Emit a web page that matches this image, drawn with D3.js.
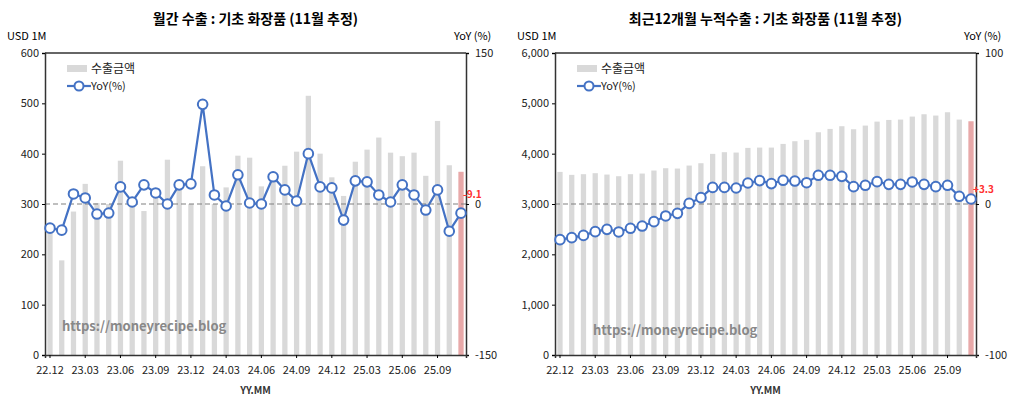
<!DOCTYPE html><html><head><meta charset="utf-8"><script src="https://cdn.jsdelivr.net/npm/d3@7"></script>
<style>body{margin:0;background:#fff}text{font-family:"Noto Sans CJK KR","Noto Sans",sans-serif}</style></head><body><svg id="c" width="1024" height="411"></svg><script>
const months=["22.12","23.01","23.02","23.03","23.04","23.05","23.06","23.07","23.08","23.09","23.10","23.11","23.12","24.01","24.02","24.03","24.04","24.05","24.06","24.07","24.08","24.09","24.10","24.11","24.12","25.01","25.02","25.03","25.04","25.05","25.06","25.07","25.08","25.09","25.10","25.11"];
const tickLabels=["22.12","23.03","23.06","23.09","23.12","24.03","24.06","24.09","24.12","25.03","25.06","25.09"];
const monthlyExport=[250,188,285,340,302,300,386,300,286,330,388,341,300,375,300,333,396,392,335,350,376,404,515,400,353,316,384,408,432,402,395,402,356,465,377,364];
const monthlyYoY=[-24,-26,10,6,-10,-9,17,2,19,11,0,19,20,99,9,-2,29,1,0,27,14,3,50,17,16,-16,23,22,9,2,19,9,-6,14,-27,-9.1];
const rollingExport=[3638,3579,3592,3612,3585,3552,3592,3605,3665,3711,3704,3764,3810,3996,4029,4022,4115,4121,4121,4194,4247,4274,4425,4492,4545,4485,4558,4637,4670,4677,4737,4783,4757,4823,4677,4644];
const rollingYoY=[-23.6,-22.3,-20.8,-18.3,-16.8,-18.5,-16.1,-14.6,-11.7,-7.9,-6.2,0.4,4.2,11,11,10.6,13.9,15.5,13.5,15.7,15.2,14.1,19,19,18.3,11.5,12.4,14.8,13,13,14.6,13,11.5,12.4,5.1,3.3];
const svg=d3.select("#c");
const fmtY2=d=>String(d);
function chart(o){
 const g=svg.append("g");
 const x=d3.scaleBand().domain(months).range([o.x0,o.x1]).paddingInner(0.55).paddingOuter(0.2);
 const y=d3.scaleLinear().domain(o.yd).range([355,53]);
 const y2=d3.scaleLinear().domain(o.y2d).range([355,53]);
 g.append("text").attr("x",(o.x0+o.x1)/2).attr("y",24).attr("text-anchor","middle").attr("font-size",14).attr("font-weight","bold").text(o.title);
 g.append("text").attr("x",o.x0-38).attr("y",40).attr("font-size",11).text("USD 1M");
 g.append("text").attr("x",o.x1-12).attr("y",40).attr("font-size",11).text("YoY (%)");
 g.selectAll(".b").data(o.bars).join("rect").attr("x",(d,i)=>x(months[i])).attr("width",x.bandwidth()).attr("y",d=>y(d)).attr("height",d=>355-y(d)).attr("fill",(d,i)=>i==months.length-1?"#e8a9a9":"#d9d9d9");
 g.append("line").attr("x1",o.x0).attr("x2",o.x1).attr("y1",y2(0)).attr("y2",y2(0)).attr("stroke","#808080").attr("stroke-dasharray","5,3").attr("stroke-width",1.2);
 g.append("g").attr("transform",`translate(${o.x0},0)`).call(d3.axisLeft(y).ticks(6).tickFormat(d3.format(",")).tickSize(3)).call(a=>{a.select(".domain").attr("stroke","#333").attr("stroke-width",1.5);a.selectAll("text").attr("font-size",11).attr("fill","#222")});
 g.append("g").attr("transform",`translate(${o.x1},0)`).call(d3.axisRight(y2).tickValues(o.y2t).tickFormat(fmtY2).tickSize(3)).call(a=>{a.select(".domain").attr("stroke","#333").attr("stroke-width",1.5);a.selectAll("text").attr("font-size",11).attr("fill","#222").attr("x",9)});
 g.append("line").attr("x1",o.x0).attr("x2",o.x1).attr("y1",53).attr("y2",53).attr("stroke","#333").attr("stroke-width",1.5);
 g.append("g").attr("transform","translate(0,355)").call(d3.axisBottom(x).tickValues(tickLabels).tickSize(3)).call(a=>{a.select(".domain").attr("stroke","#333").attr("stroke-width",1.5);a.selectAll("text").attr("font-size",11).attr("fill","#222").attr("dy","1.2em")});
 g.append("text").attr("x",(o.x0+o.x1)/2).attr("y",394).attr("text-anchor","middle").attr("font-size",10).attr("font-weight","bold").attr("fill","#333").text("YY.MM");
 const pts=o.yoy.map((d,i)=>[x(months[i])+x.bandwidth()/2,y2(d)]);
 g.append("path").attr("d",d3.line()(pts)).attr("fill","none").attr("stroke","#4472c4").attr("stroke-width",2.2);
 g.selectAll(".p").data(pts).join("circle").attr("cx",d=>d[0]).attr("cy",d=>d[1]).attr("r",4.8).attr("fill","#fff").attr("stroke","#4472c4").attr("stroke-width",2);
 const last=o.yoy[o.yoy.length-1];
 g.append("text").attr("x",o.x1-3).attr("y",y2(Math.max(last,0))-6).attr("font-size",10).attr("font-weight","bold").attr("fill","#ff3030").text(o.lastLabel);
 g.append("rect").attr("x",o.x0+22).attr("y",65).attr("width",20).attr("height",7).attr("fill","#d9d9d9");
 g.append("text").attr("x",o.x0+46).attr("y",73).attr("font-size",12).attr("fill","#222").text("수출금액");
 g.append("line").attr("x1",o.x0+22).attr("x2",o.x0+46).attr("y1",86).attr("y2",86).attr("stroke","#4472c4").attr("stroke-width",2.2);
 g.append("circle").attr("cx",o.x0+34).attr("cy",86).attr("r",4.5).attr("fill","#fff").attr("stroke","#4472c4").attr("stroke-width",2);
 g.append("text").attr("x",o.x0+46).attr("y",90).attr("font-size",11).attr("fill","#222").text("YoY(%)");
 g.append("text").attr("x",o.x0+o.wmx).attr("y",o.wmy).attr("font-size",13).attr("font-weight","bold").attr("fill","#888").attr("font-family","DejaVu Sans Mono, monospace").text("https://moneyrecipe.blog");
}
chart({x0:45,x1:466,yd:[0,600],y2d:[-150,150],y2t:[-150,0,150],bars:monthlyExport,yoy:monthlyYoY,title:"월간 수출 : 기초 화장품 (11월 추정)",lastLabel:"-9.1",wmx:17,wmy:331});
chart({x0:555,x1:976,yd:[0,6000],y2d:[-100,100],y2t:[-100,0,100],bars:rollingExport,yoy:rollingYoY,title:"최근12개월 누적수출 : 기초 화장품 (11월 추정)",lastLabel:"+3.3",wmx:38,wmy:335});
</script></body></html>
